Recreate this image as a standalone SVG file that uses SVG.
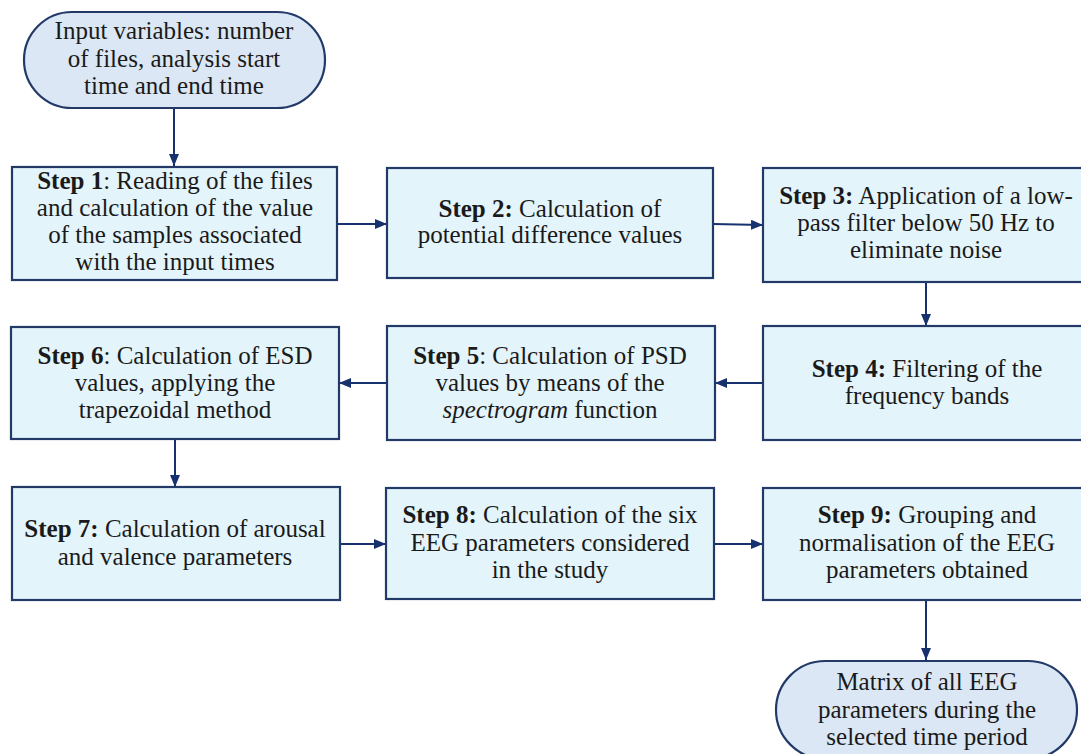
<svg xmlns="http://www.w3.org/2000/svg" width="1081" height="754" viewBox="0 0 1081 754">
<style>
.box{fill:#e3f4fa;stroke:#233a68;stroke-width:2.2}
.term{fill:#dbe7f4;stroke:#233a68;stroke-width:2.2}
text{font-family:"Liberation Serif","Times New Roman",serif;font-size:25px;fill:#1a1a1a;text-anchor:middle}
.b{font-weight:bold}
.c{stroke:#17306e;stroke-width:2;fill:none;marker-end:url(#ah)}
</style>
<defs>
<marker id="ah" viewBox="0 0 12 10" refX="12" refY="5" markerWidth="12" markerHeight="10" markerUnits="userSpaceOnUse" orient="auto">
<path d="M0,0 L12,5 L0,10 z" fill="#17306e"/>
</marker>
</defs>
<rect width="1081" height="754" fill="#ffffff"/>
<g id="connectors">
<line class="c" x1="174" y1="108" x2="174" y2="166"/>
<line class="c" x1="337" y1="224" x2="387" y2="224"/>
<line class="c" x1="713" y1="224" x2="763" y2="225"/>
<line class="c" x1="926" y1="282" x2="926" y2="326"/>
<line class="c" x1="763" y1="383" x2="715" y2="383"/>
<line class="c" x1="387" y1="383" x2="339" y2="383"/>
<line class="c" x1="175" y1="439" x2="175" y2="487"/>
<line class="c" x1="340" y1="544" x2="386" y2="544"/>
<line class="c" x1="714" y1="544" x2="763" y2="544"/>
<line class="c" x1="926" y1="600" x2="926" y2="660"/>
</g>
<g id="start">
<rect class="term" x="24" y="12" width="301" height="96" rx="48" ry="48"/>
<text x="174" y="39">Input variables: number</text>
<text x="174" y="67">of files, analysis start</text>
<text x="174" y="94">time and end time</text>
</g>
<g id="step1">
<rect class="box" x="12" y="167" width="325" height="113"/>
<text x="175" y="189"><tspan class="b">Step 1</tspan>: Reading of the files</text>
<text x="175" y="216">and calculation of the value</text>
<text x="175" y="243">of the samples associated</text>
<text x="175" y="270">with the input times</text>
</g>
<g id="step2">
<rect class="box" x="387" y="168" width="326" height="110"/>
<text x="550" y="217"><tspan class="b">Step 2:</tspan> Calculation of</text>
<text x="550" y="243">potential difference values</text>
</g>
<g id="step3">
<rect class="box" x="763" y="168" width="327" height="114"/>
<text x="926" y="204"><tspan class="b">Step 3:</tspan> Application of a low-</text>
<text x="926" y="231">pass filter below 50 Hz to</text>
<text x="926" y="258">eliminate noise</text>
</g>
<g id="step4">
<rect class="box" x="763" y="326" width="327" height="114"/>
<text x="927" y="377"><tspan class="b">Step 4:</tspan> Filtering of the</text>
<text x="927" y="404">frequency bands</text>
</g>
<g id="step5">
<rect class="box" x="387" y="326" width="328" height="114"/>
<text x="550" y="364"><tspan class="b">Step 5</tspan>: Calculation of PSD</text>
<text x="550" y="391">values by means of the</text>
<text x="550" y="418"><tspan font-style="italic">spectrogram</tspan> function</text>
</g>
<g id="step6">
<rect class="box" x="11" y="327" width="328" height="112"/>
<text x="175" y="364"><tspan class="b">Step 6</tspan>: Calculation of ESD</text>
<text x="175" y="391">values, applying the</text>
<text x="175" y="418">trapezoidal method</text>
</g>
<g id="step7">
<rect class="box" x="12" y="487" width="328" height="113"/>
<text x="175" y="537"><tspan class="b">Step 7:</tspan> Calculation of arousal</text>
<text x="175" y="565">and valence parameters</text>
</g>
<g id="step8">
<rect class="box" x="386" y="488" width="328" height="111"/>
<text x="550" y="523"><tspan class="b">Step 8:</tspan> Calculation of the six</text>
<text x="550" y="551">EEG parameters considered</text>
<text x="550" y="578">in the study</text>
</g>
<g id="step9">
<rect class="box" x="763" y="488" width="327" height="112"/>
<text x="927" y="523"><tspan class="b">Step 9:</tspan> Grouping and</text>
<text x="927" y="551">normalisation of the EEG</text>
<text x="927" y="578">parameters obtained</text>
</g>
<g id="end">
<rect class="term" x="776" y="661" width="301" height="98" rx="49" ry="49"/>
<text x="927" y="690">Matrix of all EEG</text>
<text x="927" y="718">parameters during the</text>
<text x="927" y="745">selected time period</text>
</g>
</svg>
